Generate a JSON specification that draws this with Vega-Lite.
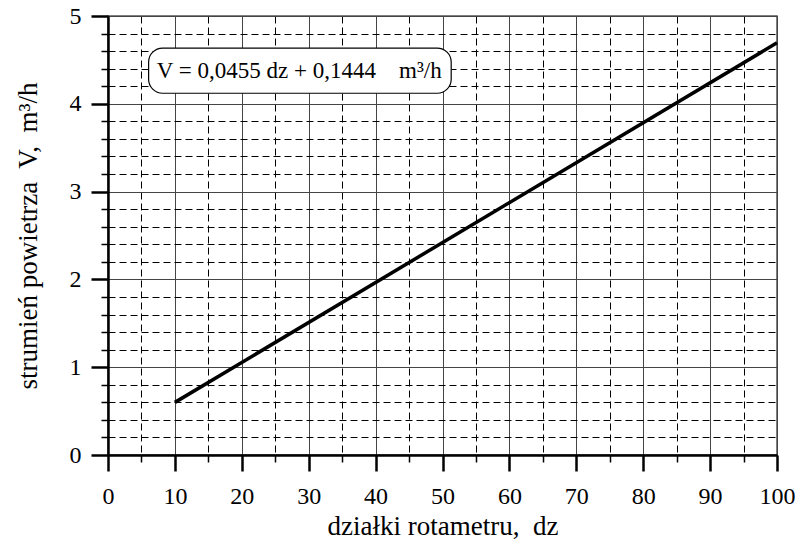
{
  "$schema": "https://vega.github.io/schema/vega-lite/v6.json",
  "width": 669,
  "height": 439,
  "autosize": {"type": "none"},
  "padding": {"left": 108, "top": 16, "right": 18, "bottom": 85},
  "background": "white",
  "config": {
    "font": "Liberation Serif",
    "view": {"stroke": "#555", "strokeWidth": 1.5}
  },
  "datasets": {
    "line": [{"x": 10, "y": 0.5994}, {"x": 100, "y": 4.6944}],
    "box": [{"x": 6.07, "x2": 51.3, "y": 4.12, "y2": 4.635}],
    "label": [
      {"x": 7.3, "y": 4.375, "t": "V = 0,0455 dz + 0,1444"},
      {"x": 43.5, "y": 4.375, "t": "m³/h"}
    ]
  },
  "encoding": {
    "x": {
      "field": "x", "type": "quantitative",
      "scale": {"domain": [0, 100], "nice": false, "zero": false},
      "axis": {
        "title": "działki rotametru,\u00a0 dz",
        "titleFont": "Liberation Serif", "titleFontSize": 27, "titleFontWeight": "normal", "titleColor": "black", "titlePadding": 5,
        "values": [0,5,10,15,20,25,30,35,40,45,50,55,60,65,70,75,80,85,90,95,100],
        "labelExpr": "datum.value % 10 === 0 ? format(datum.value, 'd') : ''",
        "labelFont": "Liberation Serif", "labelFontSize": 24, "labelColor": "black", "labelPadding": 13, "labelFlush": false, "labelOverlap": false,
        "domainColor": "black", "domainWidth": 2.5,
        "tickColor": "black",
        "tickSize": {"condition": {"test": "datum.value % 10 !== 0", "value": 7}, "value": 16},
        "tickWidth": {"condition": {"test": "datum.value % 10 !== 0", "value": 1.5}, "value": 2.5},
        "grid": true,
        "gridColor": {"condition": {"test": "datum.value % 10 !== 0", "value": "#000"}, "value": "#444"},
        "gridDash": {"condition": {"test": "datum.value % 10 !== 0", "value": [7, 4]}, "value": []},
        "gridWidth": 1, "gridOpacity": 1
      }
    },
    "y": {
      "field": "y", "type": "quantitative",
      "scale": {"domain": [0, 5], "nice": false, "zero": false},
      "axis": {
        "title": "strumień powietrza\u00a0 V,\u00a0 m³/h",
        "titleFont": "Liberation Serif", "titleFontSize": 27, "titleFontWeight": "normal", "titleColor": "black", "titlePadding": 27,
        "values": [0,0.2,0.4,0.6,0.8,1,1.2,1.4,1.6,1.8,2,2.2,2.4,2.6,2.8,3,3.2,3.4,3.6,3.8,4,4.2,4.4,4.6,4.8,5],
        "labelExpr": "abs(datum.value - round(datum.value)) < 0.001 ? format(datum.value, 'd') : ''",
        "labelFont": "Liberation Serif", "labelFontSize": 24, "labelColor": "black", "labelPadding": 10, "labelFlush": false, "labelOverlap": false,
        "domainColor": "black", "domainWidth": 2.5,
        "tickColor": "black",
        "tickSize": {"condition": {"test": "abs(datum.value - round(datum.value)) > 0.001", "value": 7}, "value": 17},
        "tickWidth": {"condition": {"test": "abs(datum.value - round(datum.value)) > 0.001", "value": 1.5}, "value": 2.5},
        "grid": true,
        "gridColor": {"condition": {"test": "abs(datum.value - round(datum.value)) > 0.001", "value": "#000"}, "value": "#444"},
        "gridDash": {"condition": {"test": "abs(datum.value - round(datum.value)) > 0.001", "value": [7, 4]}, "value": []},
        "gridWidth": 1, "gridOpacity": 1
      }
    }
  },
  "layer": [
    {
      "data": {"name": "line"},
      "mark": {"type": "line", "color": "black", "strokeWidth": 3.5}
    },
    {
      "data": {"name": "box"},
      "mark": {"type": "rect", "fill": "white", "stroke": "black", "strokeWidth": 1.2, "cornerRadius": 14},
      "encoding": {
        "x2": {"field": "x2"},
        "y2": {"field": "y2"}
      }
    },
    {
      "data": {"name": "label"},
      "mark": {"type": "text", "align": "left", "baseline": "middle", "fontSize": 23, "color": "black", "font": "Liberation Serif"},
      "encoding": {
        "text": {"field": "t"}
      }
    }
  ]
}
